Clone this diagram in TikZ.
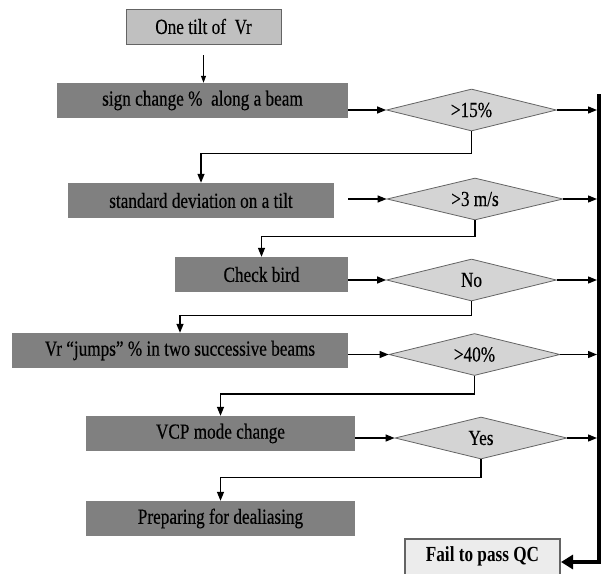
\documentclass[tikz,border=0pt]{standalone}
\usepackage{fontspec}
\setmainfont{Liberation Serif}[FakeStretch=0.8, UprightFeatures={FakeBold=0.3}]
\usetikzlibrary{arrows.meta, shapes.geometric}

\definecolor{boxgray}{RGB}{128,128,128}
\definecolor{lightbox}{RGB}{192,192,192}
\definecolor{diafill}{RGB}{212,212,212}
\definecolor{edgegray}{RGB}{100,100,100}
\definecolor{failfill}{RGB}{236,236,236}

\tikzset{
  proc/.style={rectangle, fill=boxgray, minimum height=35pt, inner sep=0pt,
    font=\fontsize{21.5}{24}\selectfont},
  cond/.style={diamond, draw=edgegray, fill=diafill, line width=0.8pt, aspect=4,
    minimum width=170pt, minimum height=42pt, inner sep=0pt,
    font=\fontsize{21.5}{24}\selectfont},
  flow/.style={line width=1.3pt, -{Triangle[length=9pt,width=7pt]}},
}

\begin{document}
\begin{tikzpicture}[x=1pt, y=-1pt]
  \useasboundingbox (0,0) rectangle (601,573);

  % process boxes
  \node[proc, fill=lightbox, draw=edgegray, line width=0.8pt, minimum width=155pt] (top) at (203.5,26.5) {One tilt of\ \ Vr};
  \node[proc, minimum width=291pt] (sign) at (202.5,100.5) {sign change \%\ \ along a beam};
  \node[proc, minimum width=266pt] (std) at (201,200.5) {standard deviation on a tilt};
  \node[proc, minimum width=173pt] (bird) at (261.5,274.5) {Check bird};
  \node[proc, minimum width=336pt] (jumps) at (180,350.5) {Vr “jumps” \% in two successive beams};
  \node[proc, minimum width=269pt] (vcp) at (220.5,433.5) {VCP mode change};
  \node[proc, minimum width=269pt] (prep) at (220.5,518.5) {Preparing for dealiasing};

  % decisions
  \node[cond] (d15) at (471.5,110) {>15\%};
  \node[cond, minimum width=176pt] (d3) at (475,199) {>3 m/s};
  \node[cond] (dNo) at (471.5,280) {No};
  \node[cond, minimum width=171pt] (d40) at (474.5,354.5) {>40\%};
  \node[cond, minimum width=172pt] (dYes) at (481,438) {Yes};

  \node[draw=edgegray, line width=2pt, fill=failfill, minimum width=155pt, minimum height=40pt,
    text depth=8pt, font=\bfseries\fontsize{21.5}{24}\selectfont] (fail) at (482.5,558.5) {Fail to pass QC};

  \coordinate (bartop) at (599,94);
  \coordinate (barbot) at (599,562);
  \coordinate (barin) at (597,0);

  % connectors
  \draw[line width=0.8pt, -{Triangle[length=7pt,width=5pt]}] (top.south) ++(0,11) -- (top.south |- sign.north);
  \foreach \b/\d in {sign/d15, sign/d3, bird/dNo, jumps/d40, vcp/dYes}
    \draw[flow] (\d.west -| \b.east) -- (\d.west);
  \foreach \d/\b/\h in {d15/std/22, d3/bird/16, dNo/jumps/14, d40/vcp/18, dYes/prep/18}
    \draw[flow] (\d.south) -- ++(0,\h) -| (\b.north);
  \foreach \d in {d15, d3, dNo, d40, dYes}
    \draw[flow] (\d.east) -- (\d.east -| barin);

  % fail bar
  \draw[line width=4pt, -{Triangle[length=12pt,width=14pt]}] (bartop) -- (barbot) -- (fail.east |- barbot);
\end{tikzpicture}
\end{document}
